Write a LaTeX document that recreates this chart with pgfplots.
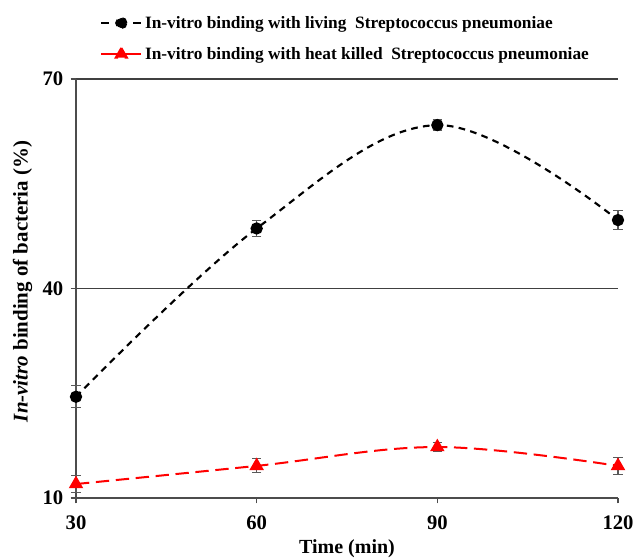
\documentclass[border=0pt]{standalone}
\usepackage{pgfplots}
\pgfplotsset{compat=1.18}
\usepackage{fontspec}
\setmainfont{Liberation Serif}
\newcommand{\legfont}{\fontsize{13}{15}\selectfont\bfseries}
\newcommand{\tickfont}{\fontsize{15.5}{18}\selectfont\bfseries}
\newcommand{\xlabfont}{\fontsize{15}{18}\selectfont\bfseries}
\newcommand{\ylabfont}{\fontsize{15.7}{19}\selectfont\bfseries}
\begin{document}
\begin{tikzpicture}
\useasboundingbox (-57pt,-44.25pt) rectangle (418.5pt,373.5pt);
\begin{axis}[
  scale only axis,
  width=406.5pt, height=314.25pt,
  xmin=30, xmax=120, ymin=10, ymax=70,
  xtick={30,60,90,120}, ytick={10,40,70},
  axis lines*=left,
  ymajorgrids, grid style={black!75, line width=1pt},
  axis line style={black!70, line width=1.2pt},
  tick align=outside, major tick length=4pt,
  tick style={black!70, line width=1pt},
  /pgf/number format/assume math mode=true,
  tick label style={font=\tickfont},
  yticklabel style={xshift=-2pt},
  xticklabel style={yshift=-6pt},
  xlabel={Time (min)}, ylabel={\textit{In-vitro} binding of bacteria (\%)},
  xlabel style={font=\xlabfont, at={(axis description cs:0.5,0)}, anchor=center, yshift=-38pt},
  ylabel style={font=\ylabfont, at={(axis description cs:0,0.517)}, anchor=center, yshift=40pt},
  clip=false,
  legend style={draw=none, fill=none, inner sep=0pt, at={(0,1)}, anchor=south west,
    xshift=18pt, yshift=11pt,
    font=\legfont, row sep=9pt, legend cell align=left},
]
\addplot[black, dash pattern=on 5pt off 4pt, line width=1.6pt, smooth, tension=0.6,
  mark=*, mark size=3.8pt, mark options={solid, fill=black},
  legend image code/.code={
    \draw[black, solid, line width=1.6pt] (0pt,0pt) -- (6pt,0pt);
    \draw[black, solid, line width=1.6pt] (24pt,0pt) -- (30pt,0pt);
    \fill[black] (15pt,0pt) circle (3.8pt);
  },
  error bars/.cd, y dir=both, y explicit,
  error bar style={solid, black!65, line width=0.8pt},
  error mark options={rotate=90, mark size=3.5pt, black!65, line width=0.8pt}]
coordinates {
 (30,24.5) +- (0,1.6)
 (60,48.6) +- (0,1.2)
 (90,63.4) +- (0,0.8)
 (120,49.8) +- (0,1.4)
};
\addlegendentry{In-vitro binding with living\ \ Streptococcus pneumoniae}
\addplot[red, dash pattern=on 10pt off 5pt, line width=1.5pt, smooth, tension=0.6,
  mark=triangle*, mark size=4.8pt, mark options={solid, fill=red},
  legend image code/.code={
    \draw[red, solid, line width=1.5pt] (0pt,0pt) -- (30pt,0pt);
    \fill[red] (15pt,0pt) +(90:4.8pt) -- +(210:4.8pt) -- +(330:4.8pt) -- cycle;
  },
  error bars/.cd, y dir=both, y explicit,
  error bar style={solid, black!65, line width=0.8pt},
  error mark options={rotate=90, mark size=3.5pt, black!65, line width=0.8pt}]
coordinates {
 (30,12.0) +- (0,1.2)
 (60,14.6) +- (0,1.0)
 (90,17.3) +- (0,0.7)
 (120,14.6) +- (0,1.2)
};
\addlegendentry{In-vitro binding with heat killed\ \ Streptococcus pneumoniae}
\end{axis}
\end{tikzpicture}
\end{document}
